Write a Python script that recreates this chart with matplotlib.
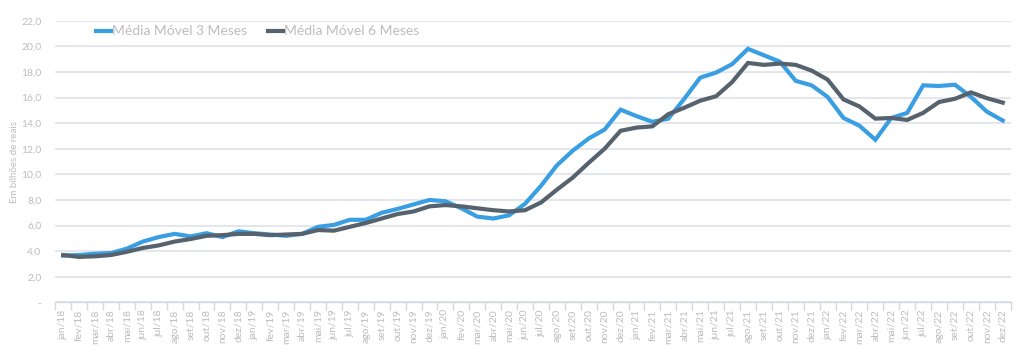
import matplotlib.pyplot as plt
from matplotlib.ticker import FixedLocator, MultipleLocator

# ==============================
# dados
# ==============================

meses = ["jan", "fev", "mar", "abr", "mai", "jun",
         "jul", "ago", "set", "out", "nov", "dez"]
anos = ["18", "19", "20", "21", "22"]
rotulos = [f"{m}/{a}" for a in anos for m in meses]

media_3m = [3.65, 3.7, 3.8, 3.85, 4.2, 4.75, 5.1, 5.35, 5.15, 5.4, 5.1, 5.55,
            5.4, 5.3, 5.2, 5.35, 5.9, 6.05, 6.45, 6.45, 7.0, 7.3, 7.65, 8.0,
            7.9, 7.35, 6.7, 6.55, 6.8, 7.7, 9.1, 10.7, 11.85, 12.8, 13.5, 15.05,
            14.55, 14.1, 14.35, 15.9, 17.55, 17.95, 18.6, 19.8, 19.3, 18.8, 17.3, 16.95,
            16.05, 14.4, 13.8, 12.7, 14.4, 14.8, 16.95, 16.9, 17.0, 16.05, 14.9, 14.2]

media_6m = [3.7, 3.55, 3.6, 3.7, 3.95, 4.25, 4.45, 4.75, 4.95, 5.2, 5.25, 5.35,
            5.35, 5.25, 5.3, 5.35, 5.65, 5.6, 5.9, 6.2, 6.55, 6.9, 7.1, 7.5,
            7.6, 7.5, 7.35, 7.2, 7.1, 7.2, 7.8, 8.8, 9.75, 10.9, 12.0, 13.4,
            13.65, 13.75, 14.7, 15.2, 15.75, 16.1, 17.2, 18.7, 18.55, 18.65, 18.55, 18.1,
            17.4, 15.85, 15.3, 14.35, 14.4, 14.25, 14.8, 15.65, 15.9, 16.4, 15.95, 15.6]

yticks = list(range(0, 23, 2))
ytick_labels = ["-"] + [f"{v:.1f}".replace(".", ",") for v in yticks[1:]]

# ==============================
# estilo
# ==============================

plt.rcParams["font.family"] = ["Lato", "DejaVu Sans"]
cor_texto = "#BDBDBD"
cor_grade = "#E1E4E8"
azul = "#3A9FE2"
cinza = "#56636E"

fig = plt.figure(figsize=(10.23, 3.63), dpi=100)
ax = fig.add_axes([0.054, 0.167, 0.934, 0.776])

x = list(range(len(rotulos)))
ax.plot(x, media_3m, color=azul, linewidth=3, label="Média Móvel 3 Meses",
        solid_joinstyle="miter", zorder=3)
ax.plot(x, media_6m, color=cinza, linewidth=3, label="Média Móvel 6 Meses",
        solid_joinstyle="miter", zorder=3)

ax.set_xlim(-0.5, len(rotulos) - 0.5)
ax.set_ylim(0, 22)

# eixos
ax.set_xticks(x)
ax.set_xticklabels(rotulos, rotation=90, fontsize=7.5, color=cor_texto)
ax.xaxis.set_minor_locator(MultipleLocator(1, offset=0.5))
ax.tick_params(axis="x", which="major", length=0, pad=5)
ax.tick_params(axis="x", which="minor", length=6, color="#D5D8DC", width=1)

ax.yaxis.set_major_locator(FixedLocator(yticks))
ax.set_yticklabels(ytick_labels, fontsize=7.5, color=cor_texto)
ax.tick_params(axis="y", length=0, pad=10)

ax.set_ylabel("Em bilhões de reais", fontsize=7, color=cor_texto)
ax.yaxis.set_label_coords(-0.038, 0.5)

for lado in ["top", "right", "left"]:
    ax.spines[lado].set_visible(False)
ax.spines["bottom"].set_color("#D5D8DC")
ax.spines["bottom"].set_linewidth(1)

ax.grid(True, axis="y", color=cor_grade, linewidth=1.3)
ax.set_axisbelow(True)

# legenda
leg = fig.legend(loc="upper left", bbox_to_anchor=(0.094, 0.93), ncol=2,
                 frameon=False, fontsize=10, handlelength=1.1,
                 handletextpad=0.05, columnspacing=1.5, borderpad=0,
                 borderaxespad=0)
for t in leg.get_texts():
    t.set_color(cor_texto)

fig.savefig("out.png", dpi=100)
plt.close(fig)
